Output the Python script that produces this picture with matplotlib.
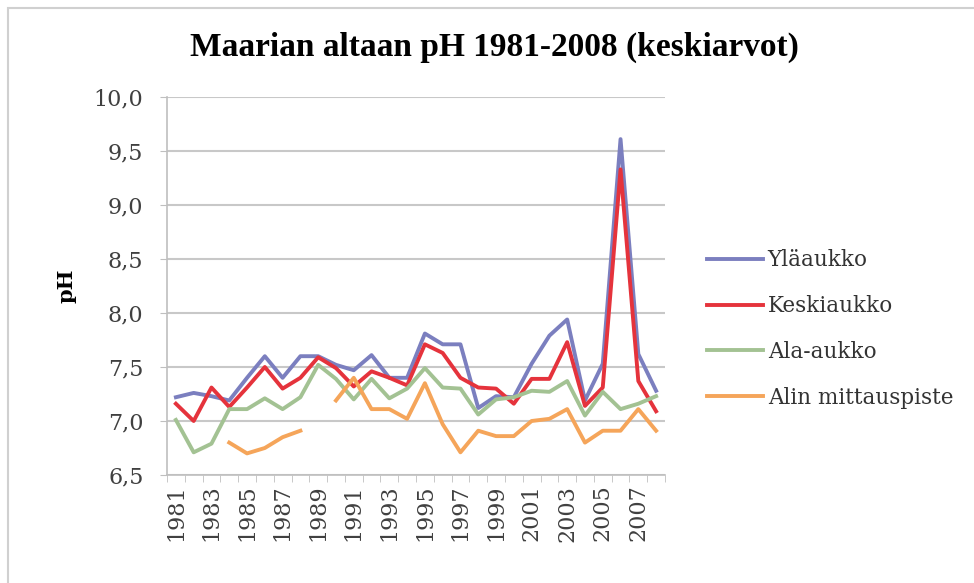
import matplotlib.pyplot as plt
import numpy as np
from matplotlib.patches import Rectangle

nan = np.nan
years = list(range(1981, 2009))
ylaaukko = [7.22, 7.26, 7.23, 7.19, 7.40, 7.60, 7.40, 7.60, 7.60, 7.52, 7.47, 7.61, 7.40, 7.40,
            7.81, 7.71, 7.71, 7.12, 7.23, 7.22, 7.53, 7.79, 7.94, 7.19, 7.53, 9.61, 7.62, 7.28]
keskiaukko = [7.16, 7.00, 7.31, 7.13, 7.31, 7.50, 7.30, 7.40, 7.59, 7.49, 7.32, 7.46, 7.40, 7.33,
              7.71, 7.63, 7.40, 7.31, 7.30, 7.16, 7.39, 7.39, 7.73, 7.14, 7.31, 9.33, 7.37, 7.09]
ala_aukko = [7.01, 6.71, 6.79, 7.11, 7.11, 7.21, 7.11, 7.22, 7.52, 7.39, 7.20, 7.39, 7.21, 7.30,
             7.49, 7.31, 7.30, 7.06, 7.20, 7.22, 7.28, 7.27, 7.37, 7.05, 7.27, 7.11, 7.16, 7.23]
alin = [nan, nan, nan, 6.80, 6.70, 6.75, 6.85, 6.91, nan, 7.19, 7.40, 7.11, 7.11, 7.02,
        7.35, 6.97, 6.71, 6.91, 6.86, 6.86, 7.00, 7.02, 7.11, 6.80, 6.91, 6.91, 7.11, 6.91]

series = [
    ("Yläaukko", ylaaukko, "#7b7fbf"),
    ("Keskiaukko", keskiaukko, "#e5333c"),
    ("Ala-aukko", ala_aukko, "#a3c293"),
    ("Alin mittauspiste", alin, "#f5a55a"),
]
yticks = [6.5, 7.0, 7.5, 8.0, 8.5, 9.0, 9.5, 10.0]

plt.rcParams["font.family"] = ["DejaVu Serif"]

fig = plt.figure(figsize=(9.74, 5.83), dpi=100)
fig.patches.append(Rectangle((8 / 974, -0.01), 1.0, 1.0 - 8 / 583 + 0.01,
                             transform=fig.transFigure, fill=False, ec="#d0d0d0", lw=1.5))
ax = fig.add_axes([167 / 974, 108 / 583, 498 / 974, 378 / 583])

x = np.arange(len(years))
for name, vals, col in series:
    ax.plot(x, vals, color=col, lw=2.8, label=name)

ax.set_xlim(-0.5, len(years) - 0.5)
ax.set_ylim(6.5, 10.0)
ax.set_yticks(yticks)
ax.set_yticklabels([f"{v:.1f}".replace(".", ",") for v in yticks], fontsize=16, color="#404040")
ax.set_xticks(x[::2])
ax.set_xticklabels([str(y) for y in years[::2]], rotation=90, fontsize=16, color="#404040")
ax.set_xticks(np.arange(-0.5, len(years)), minor=True)
ax.tick_params(axis="x", which="major", length=0, pad=7)
ax.tick_params(axis="x", which="minor", length=5, color="#bfbfbf")
ax.tick_params(axis="y", length=5, color="#bfbfbf", pad=12)
ax.grid(axis="y", color="#c8c8c8", lw=1.5)
ax.set_axisbelow(True)
for s in ["top", "right"]:
    ax.spines[s].set_visible(False)
for s in ["left", "bottom"]:
    ax.spines[s].set_color("#bfbfbf")
    ax.spines[s].set_linewidth(1.2)

ax.set_ylabel("pH", fontsize=15, fontweight="bold", labelpad=12)
fig.text(494 / 974, 1 - 47 / 583, "Maarian altaan pH 1981-2008 (keskiarvot)",
         ha="center", va="center", fontsize=24, fontweight="bold",
         family="Liberation Serif")

fig.legend(loc="center left", bbox_to_anchor=(688 / 974, 1 - 329 / 583), frameon=False,
           fontsize=15.5, handlelength=2.6, handletextpad=0.2, labelspacing=1.1,
           labelcolor="#333333")

fig.savefig("out.png", dpi=100)
